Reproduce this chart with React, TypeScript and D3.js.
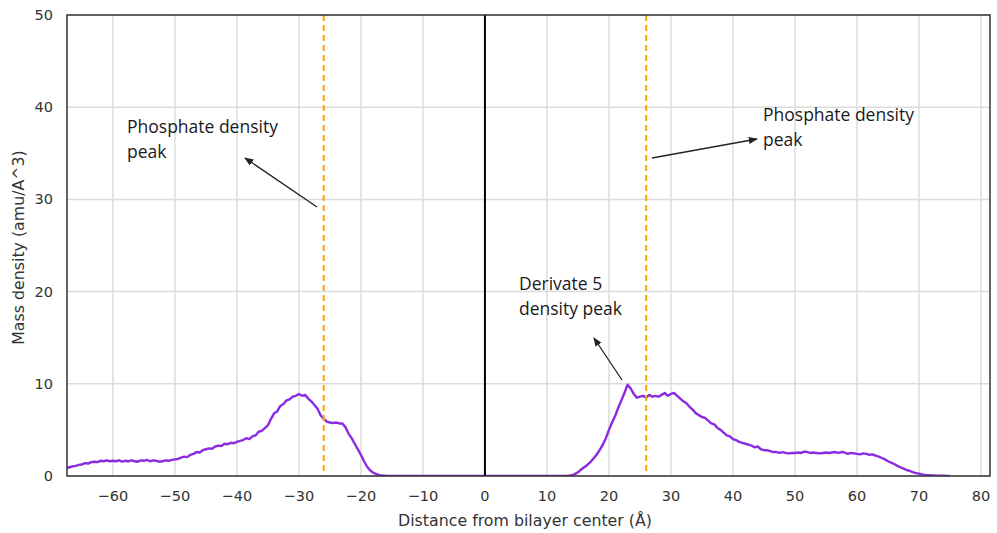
import React from "react";
import * as d3 from "d3";

const X_START = -67.5;
const X_STEP = 0.5;

const densityLeft = [
  0.85, 0.95, 1.05, 1.1, 1.2, 1.25, 1.4, 1.35, 1.5, 1.55, 1.5, 1.65, 1.6, 1.7, 1.6, 1.65,
  1.6, 1.7, 1.55, 1.65, 1.6, 1.7, 1.6, 1.55, 1.7, 1.65, 1.75, 1.6, 1.7, 1.65, 1.55, 1.6, 1.7, 1.65, 1.75, 1.8,
  1.85, 2.0, 2.1, 2.05, 2.3, 2.4, 2.6, 2.55, 2.8, 2.9, 3.0, 2.95, 3.2, 3.3, 3.25, 3.5, 3.45, 3.6, 3.55, 3.7,
  3.8, 3.9, 4.1, 4.0, 4.3, 4.4, 4.8, 4.9, 5.2, 5.5, 6.2, 6.8, 7.0, 7.6, 7.8, 8.2, 8.3, 8.6, 8.7, 8.9,
  8.7, 8.8, 8.4, 8.1, 7.7, 7.3, 6.6, 6.2, 5.9, 5.8, 5.75, 5.8, 5.7, 5.7, 5.3, 4.6, 4.1, 3.5, 2.9, 2.3,
  1.6, 1.0, 0.6, 0.35, 0.2, 0.1, 0.05, 0.02,
];

const densityMiddle = [
  0, 0, 0, 0, 0, 0, 0, 0, 0, 0, 0, 0, 0, 0, 0, 0, 0, 0, 0, 0, 0, 0, 0, 0, 0, 0, 0, 0, 0,
  0, 0, 0, 0, 0, 0, 0, 0, 0, 0, 0, 0, 0, 0, 0, 0, 0, 0, 0, 0, 0, 0, 0, 0, 0, 0, 0, 0, 0,
];

const densityRight = [
  0.02, 0.08, 0.2, 0.4, 0.7, 0.95, 1.2, 1.5, 1.9, 2.3, 2.8, 3.4, 4.1, 5.0, 5.8, 6.5, 7.4, 8.2, 9.0, 9.9,
  9.5, 8.9, 8.5, 8.6, 8.7, 8.5, 8.8, 8.6, 8.7, 8.6, 8.8, 9.0, 8.7, 8.9, 9.0, 8.7, 8.4, 8.1, 7.9, 7.5,
  7.2, 6.8, 6.6, 6.4, 6.3, 6.0, 5.7, 5.6, 5.2, 5.0, 4.7, 4.4, 4.3, 4.0, 3.9, 3.7, 3.6, 3.5, 3.4, 3.3,
  3.1, 3.2, 2.9, 2.8, 2.8, 2.7, 2.6, 2.6, 2.5, 2.6, 2.5, 2.45, 2.5, 2.5, 2.55, 2.5, 2.65, 2.6, 2.5, 2.55,
  2.5, 2.45, 2.5, 2.55, 2.5, 2.55, 2.6, 2.5, 2.6, 2.55, 2.4, 2.5, 2.45, 2.4, 2.35, 2.45, 2.4, 2.3, 2.35, 2.2,
  2.1, 1.95, 1.8, 1.6, 1.45, 1.3, 1.1, 0.95, 0.8, 0.65, 0.55, 0.42, 0.32, 0.25, 0.18, 0.12, 0.1, 0.07, 0.05, 0.04,
  0.03, 0.02, 0.01, 0.01,
];

const xTicks = [-60, -50, -40, -30, -20, -10, 0, 10, 20, 30, 40, 50, 60, 70, 80];
const yTicks = [0, 10, 20, 30, 40, 50];
const phosphatePeaks = [-26, 26];

const annotations = [
  { lines: ["Phosphate density", "peak"], tx: 127, ty: 133, from: [317, 207], to: [245, 158] },
  { lines: ["Phosphate density", "peak"], tx: 763, ty: 121, from: [652, 158], to: [757, 139] },
  { lines: ["Derivate 5", "density peak"], tx: 519, ty: 290, from: [622, 380], to: [594, 338] },
];

export default function App() {
  const W = 997, H = 533;
  const left = 67, right = 990, top = 15, bottom = 476;
  const x = d3.scaleLinear().domain([-67.4, 81.45]).range([left, right]);
  const y = d3.scaleLinear().domain([0, 50]).range([bottom, top]);

  const values = [...densityLeft, ...densityMiddle, ...densityRight];
  const data = values.map((v, i) => ({ x: X_START + i * X_STEP, y: v }));
  const line = d3.line<{ x: number; y: number }>().x(d => x(d.x)).y(d => y(d.y));

  const font = "'DejaVu Sans', sans-serif";
  const annFont = "'Open Sans', 'Liberation Sans', Arial, sans-serif";

  return (
    <svg width={W} height={H} style={{ position: "absolute", left: 0, top: 0, background: "#fff" }}>
      <defs>
        <clipPath id="plot">
          <rect x={left} y={top} width={right - left} height={bottom - top} />
        </clipPath>
        <marker id="arrow" viewBox="0 0 10 10" refX="9" refY="5" markerWidth="7" markerHeight="7" orient="auto-start-reverse">
          <path d="M0,1 L10,5 L0,9 z" fill="#222" />
        </marker>
      </defs>
      <rect x={0} y={0} width={W} height={H} fill="#fff" />
      {xTicks.map(t => (
        <line key={"gx" + t} x1={x(t)} x2={x(t)} y1={top} y2={bottom} stroke="#dcdcdc" strokeWidth={1.5} />
      ))}
      {yTicks.map(t => (
        <line key={"gy" + t} x1={left} x2={right} y1={y(t)} y2={y(t)} stroke="#dcdcdc" strokeWidth={1.5} />
      ))}
      <g clipPath="url(#plot)">
        <path d={line(data) || ""} fill="none" stroke="#8a2be2" strokeWidth={2.4} strokeLinejoin="round" />
      </g>
      <line x1={x(0)} x2={x(0)} y1={top} y2={bottom} stroke="#000" strokeWidth={2} />
      {phosphatePeaks.map(p => (
        <line key={"p" + p} x1={x(p)} x2={x(p)} y1={top} y2={bottom} stroke="#ffa500" strokeWidth={2} strokeDasharray="6,4" />
      ))}
      <rect x={left} y={top} width={right - left} height={bottom - top} fill="none" stroke="#333" strokeWidth={1.5} />
      {xTicks.map(t => (
        <text key={"tx" + t} x={x(t)} y={501} textAnchor="middle" fontFamily={font} fontSize={14.5} fill="#333">
          {t < 0 ? "\u2212" + Math.abs(t) : String(t)}
        </text>
      ))}
      {yTicks.map(t => (
        <text key={"ty" + t} x={53} y={y(t) + 5} textAnchor="end" fontFamily={font} fontSize={14.5} fill="#333">
          {t}
        </text>
      ))}
      <text x={525} y={526} textAnchor="middle" fontFamily={font} fontSize={15.8} fill="#333">
        Distance from bilayer center (Å)
      </text>
      <text transform={`translate(24,${(top + bottom) / 2 + 2}) rotate(-90)`} textAnchor="middle" fontFamily={font} fontSize={15.8} fill="#333">
        Mass density (amu/A^3)
      </text>
      {annotations.map((a, i) => (
        <g key={"a" + i}>
          {a.lines.map((l, j) => (
            <text key={j} x={a.tx} y={a.ty + j * 25} fontFamily={annFont} fontSize={17.5} fill="#1a1a1a">
              {l}
            </text>
          ))}
          <line x1={a.from[0]} y1={a.from[1]} x2={a.to[0]} y2={a.to[1]} stroke="#222" strokeWidth={1.3} markerEnd="url(#arrow)" />
        </g>
      ))}
    </svg>
  );
}
